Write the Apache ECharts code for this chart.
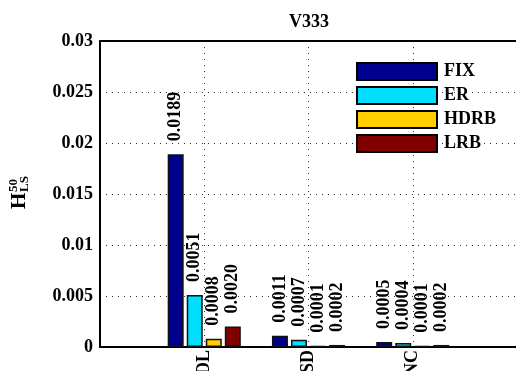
<!DOCTYPE html>
<html>
<head>
<meta charset="utf-8">
<script src="https://cdn.jsdelivr.net/npm/echarts@6/dist/echarts.min.js"></script>
<style>html,body{margin:0;padding:0;background:#fff}#c{width:516px;height:371px}</style>
</head>
<body>
<div id="c"></div>
<script>
var categories = ['', 'DL', 'SD', 'NC', ''];
var seriesNames = ['FIX', 'ER', 'HDRB', 'LRB'];
var FIX = [null, 0.0189, 0.0011, 0.0005, null];
var ER = [null, 0.0051, 0.0007, 0.0004, null];
var HDRB = [null, 0.0008, 0.0001, 0.0001, null];
var LRB = [null, 0.0020, 0.0002, 0.0002, null];
var yTicks = [0, 0.005, 0.01, 0.015, 0.02, 0.025, 0.03];
var colors = ['#00008F', '#00DFFF', '#FFCF00', '#800000'];
var values = [FIX, ER, HDRB, LRB];

var serif = '"Liberation Serif", "Times New Roman", serif';
var chart = echarts.init(document.getElementById('c'));
var series = seriesNames.map(function (n, i) {
  return {
    name: n, type: 'bar', data: values[i],
    barWidth: 16, barGap: '19%',
    itemStyle: { color: colors[i], borderColor: '#111', borderWidth: 1.5 },
    label: {
      show: true, position: 'top', rotate: 90, distance: 11,
      align: 'left', verticalAlign: 'middle', offset: [2, 0],
      fontFamily: serif, fontSize: 18, fontWeight: 'bold', color: '#000',
      formatter: function (p) { return p.value == null ? '' : p.value.toFixed(4); }
    }
  };
});
chart.setOption({
  animation: false,
  color: colors,
  title: { text: 'V333', left: 289, top: 13, padding: 0,
    textStyle: { fontFamily: serif, fontSize: 18, fontWeight: 'bold', color: '#000' } },
  legend: {
    orient: 'vertical', left: 356, top: 62, padding: 0,
    itemWidth: 80, itemHeight: 17, itemGap: 5,
    icon: 'rect',
    itemStyle: { borderColor: '#000', borderWidth: 2 },
    textStyle: { fontFamily: serif, fontSize: 18, fontWeight: 'bold', color: '#000', lineHeight: 18, padding: [0, 0, 0, 2] },
    data: seriesNames
  },
  grid: { left: 100, right: -1, top: 41, bottom: 24, containLabel: false, outerBoundsMode: 'none' },
  xAxis: [{
    type: 'category', data: categories, boundaryGap: false,
    axisLine: { lineStyle: { color: '#000', width: 2 } },
    axisTick: { show: false },
    axisLabel: { rotate: 90, margin: 3, interval: 0, fontFamily: serif, fontSize: 18, fontWeight: 'bold', color: '#000' },
    splitLine: { show: true, interval: 0, lineStyle: { color: '#333', type: [1, 5], width: 1 } }
  }, {
    type: 'category', data: categories, boundaryGap: false, position: 'top',
    axisLine: { show: true, lineStyle: { color: '#000', width: 2 } },
    axisTick: { show: false }, axisLabel: { show: false }, splitLine: { show: false }
  }],
  yAxis: {
    type: 'value', min: 0, max: 0.03, interval: 0.005,
    axisLine: { show: true, lineStyle: { color: '#000', width: 2 } },
    axisTick: { show: false },
    axisLabel: { margin: 7, fontFamily: serif, fontSize: 18, fontWeight: 'bold', color: '#000',
      formatter: function (v) { return String(parseFloat(v.toFixed(3))); } },
    splitLine: { show: true, lineStyle: { color: '#333', type: [1, 5], width: 1 } }
  },
  graphic: [{
    type: 'group', x: 20, y: 209, rotation: Math.PI / 2,
    children: [
      { type: 'text', x: 0, y: 0, style: { text: 'H', fontFamily: serif, fontSize: 21, fontWeight: 'bold', fill: '#000', verticalAlign: 'middle', align: 'left' } },
      { type: 'text', x: 17, y: -6, style: { text: '50', fontFamily: serif, fontSize: 13, fontWeight: 'bold', fill: '#000', verticalAlign: 'middle', align: 'left' } },
      { type: 'text', x: 17, y: 5, style: { text: 'LS', fontFamily: serif, fontSize: 13, fontWeight: 'bold', fill: '#000', verticalAlign: 'middle', align: 'left' } }
    ]
  }],
  series: series
});
</script>
</body>
</html>
